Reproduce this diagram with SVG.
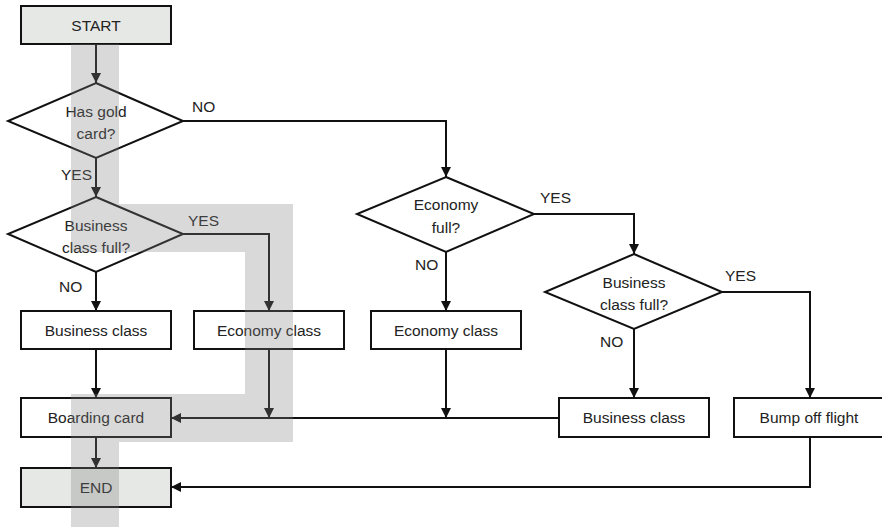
<svg xmlns="http://www.w3.org/2000/svg" width="882" height="527" viewBox="0 0 882 527">
  <style>
    .box { fill: #ffffff; stroke: #111111; stroke-width: 2; }
    .term { fill: #e6e8e6; stroke: #111111; stroke-width: 2; }
    .dia { fill: #ffffff; stroke: #111111; stroke-width: 2; stroke-linejoin: miter; }
    .lbl { font-family: "Liberation Sans", Arial, sans-serif; font-size: 15.5px; fill: #222222; text-anchor: middle; }
    .tag { font-family: "Liberation Sans", Arial, sans-serif; font-size: 15.5px; fill: #222222; text-anchor: start; }
    .edge { fill: none; stroke: #111111; stroke-width: 2; }
    .arrow { marker-end: url(#head); }
    .path-band { fill: #808080; fill-opacity: 0.3; }
  </style>
  <defs>
    <marker id="head" markerUnits="userSpaceOnUse" markerWidth="10" markerHeight="10" refX="10" refY="5" orient="auto">
      <path d="M0,0 L10,5 L0,10 Z" fill="#111111"/>
    </marker>
  </defs>

  <rect width="882" height="527" fill="#ffffff"/>

  <!-- connectors -->
  <g id="connectors">
    <path class="edge arrow" d="M96,44 V83"/>
    <path class="edge arrow" d="M183,121 H446 V177"/>
    <path class="edge arrow" d="M96,158 V197"/>
    <path class="edge arrow" d="M183,234 H269 V311"/>
    <path class="edge arrow" d="M96,272 V311"/>
    <path class="edge arrow" d="M96,349 V398"/>
    <path class="edge arrow" d="M269,349 V418"/>
    <path class="edge arrow" d="M559,418 H171"/>
    <path class="edge arrow" d="M96,437 V468"/>
    <path class="edge arrow" d="M534,214 H634 V254"/>
    <path class="edge arrow" d="M446,252 V311"/>
    <path class="edge arrow" d="M446,349 V418"/>
    <path class="edge arrow" d="M722,292 H810 V398"/>
    <path class="edge arrow" d="M634,329 V398"/>
    <path class="edge arrow" d="M810,437 V487 H171"/>
  </g>

  <!-- branch labels -->
  <g id="branch-labels">
    <text class="tag" x="192" y="112">NO</text>
    <text class="tag" x="61" y="180">YES</text>
    <text class="tag" x="188" y="226">YES</text>
    <text class="tag" x="59" y="292">NO</text>
    <text class="tag" x="540" y="203">YES</text>
    <text class="tag" x="415" y="270">NO</text>
    <text class="tag" x="725" y="281">YES</text>
    <text class="tag" x="600" y="347">NO</text>
  </g>

  <!-- nodes -->
  <g id="start">
    <rect class="term" x="21" y="6" width="150" height="38"/>
    <text class="lbl" x="96" y="31">START</text>
  </g>
  <g id="has-gold-card">
    <polygon class="dia" points="96,83 183,121 96,158 8,121"/>
    <text class="lbl" x="96" y="117">Has gold</text>
    <text class="lbl" x="96" y="139">card?</text>
  </g>
  <g id="business-full-gold">
    <polygon class="dia" points="96,197 183,234 96,272 8,234"/>
    <text class="lbl" x="96" y="231">Business</text>
    <text class="lbl" x="96" y="253">class full?</text>
  </g>
  <g id="business-class-gold">
    <rect class="box" x="21" y="311" width="150" height="38"/>
    <text class="lbl" x="96" y="335.5">Business class</text>
  </g>
  <g id="economy-class-gold">
    <rect class="box" x="194" y="311" width="150" height="38"/>
    <text class="lbl" x="269" y="335.5">Economy class</text>
  </g>
  <g id="boarding-card">
    <rect class="box" x="21" y="398" width="150" height="39"/>
    <text class="lbl" x="96" y="423">Boarding card</text>
  </g>
  <g id="end">
    <rect class="term" x="21" y="468" width="150" height="39"/>
    <text class="lbl" x="96" y="493">END</text>
  </g>
  <g id="economy-full">
    <polygon class="dia" points="446,177 534,214 446,252 357,214"/>
    <text class="lbl" x="446" y="210">Economy</text>
    <text class="lbl" x="446" y="233">full?</text>
  </g>
  <g id="economy-class">
    <rect class="box" x="371" y="311" width="150" height="38"/>
    <text class="lbl" x="446" y="335.5">Economy class</text>
  </g>
  <g id="business-full">
    <polygon class="dia" points="634,254 722,292 634,329 545,292"/>
    <text class="lbl" x="634" y="288">Business</text>
    <text class="lbl" x="634" y="310">class full?</text>
  </g>
  <g id="business-class">
    <rect class="box" x="559" y="398" width="150" height="39"/>
    <text class="lbl" x="634" y="423">Business class</text>
  </g>
  <g id="bump-off-flight">
    <rect class="box" x="734" y="398" width="150" height="39"/>
    <text class="lbl" x="809" y="423">Bump off flight</text>
  </g>

  <!-- highlighted route for a gold-card holder when business class is full -->
  <g id="highlight">
    <path class="path-band" d="M71,44 H119 V204 H293 V442 H119 V527 H71 V394 H245 V252 H71 Z"/>
  </g>
</svg>
